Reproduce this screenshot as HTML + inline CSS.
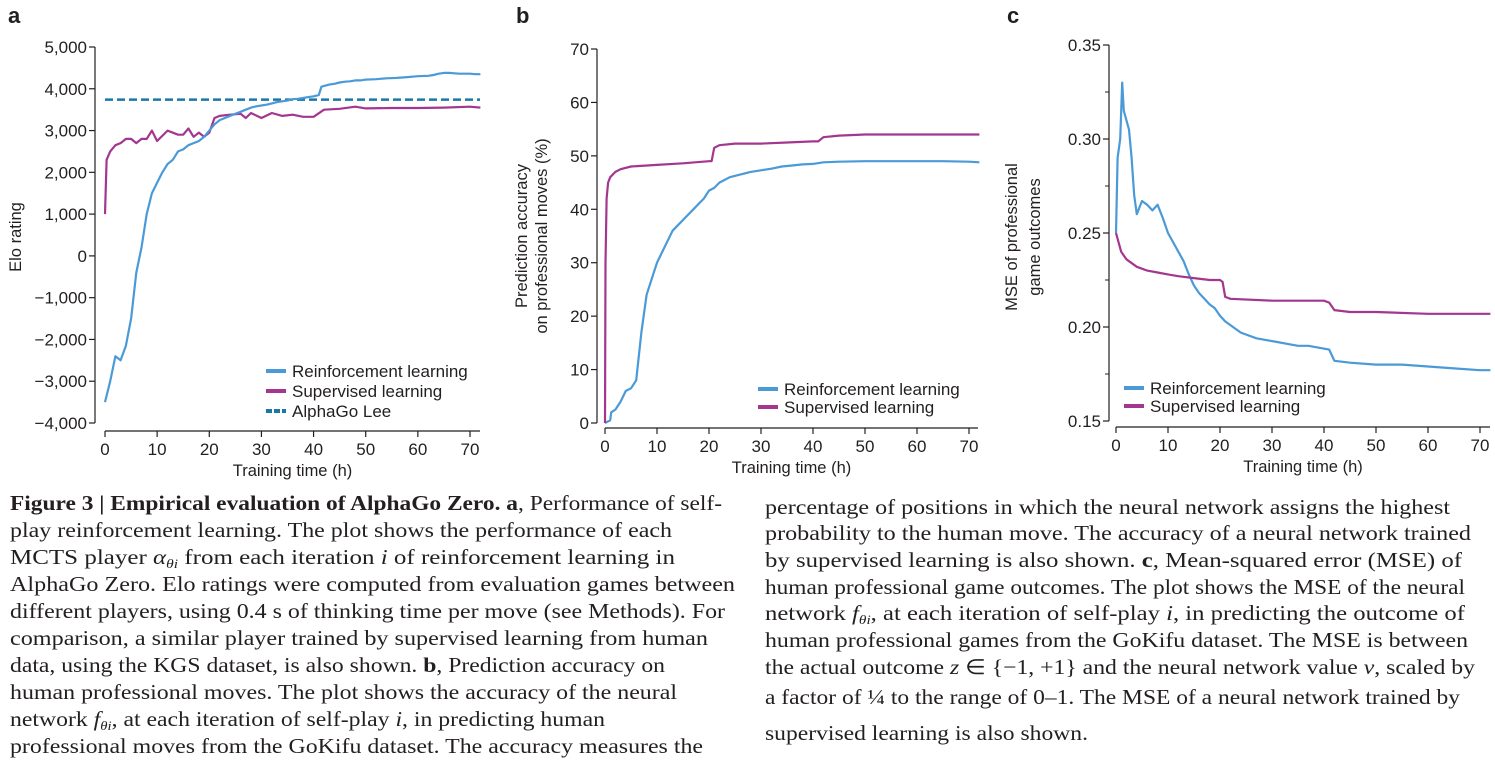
<!DOCTYPE html>
<html><head><meta charset="utf-8"><style>
html,body{margin:0;padding:0;background:#fff;}
svg{display:block;}
.ax{font-family:"Liberation Sans",sans-serif;font-size:17px;fill:#231f20;}
.tt{font-family:"Liberation Sans",sans-serif;font-size:16.5px;fill:#231f20;}
.cap{font-family:"Liberation Serif",serif;font-size:21px;fill:#231f20;}
</style></head><body>
<svg id="fig" width="1495" height="768" viewBox="0 0 1495 768" xmlns="http://www.w3.org/2000/svg">
<g id="charts"></g>
<g id="caption">
<text class="cap" x="10" y="510" textLength="712" lengthAdjust="spacingAndGlyphs"><tspan font-weight="bold">Figure 3 | Empirical evaluation of AlphaGo Zero. a</tspan>, Performance of self-</text>
<text class="cap" x="10" y="537" textLength="662" lengthAdjust="spacingAndGlyphs">play reinforcement learning. The plot shows the performance of each</text>
<text class="cap" x="10" y="564" textLength="665" lengthAdjust="spacingAndGlyphs">MCTS player <tspan font-style="italic">α</tspan><tspan font-size="13" font-style="italic" dy="4">θi</tspan><tspan dy="-4"> from each iteration </tspan><tspan font-style="italic">i</tspan> of reinforcement learning in</text>
<text class="cap" x="10" y="591" textLength="725" lengthAdjust="spacingAndGlyphs">AlphaGo Zero. Elo ratings were computed from evaluation games between</text>
<text class="cap" x="10" y="618" textLength="715" lengthAdjust="spacingAndGlyphs">different players, using 0.4 s of thinking time per move (see Methods). For</text>
<text class="cap" x="10" y="645" textLength="698" lengthAdjust="spacingAndGlyphs">comparison, a similar player trained by supervised learning from human</text>
<text class="cap" x="10" y="672" textLength="655" lengthAdjust="spacingAndGlyphs">data, using the KGS dataset, is also shown. <tspan font-weight="bold">b</tspan>, Prediction accuracy on</text>
<text class="cap" x="10" y="699" textLength="667" lengthAdjust="spacingAndGlyphs">human professional moves. The plot shows the accuracy of the neural</text>
<text class="cap" x="10" y="726" textLength="595" lengthAdjust="spacingAndGlyphs">network <tspan font-style="italic">f</tspan><tspan font-size="13" font-style="italic" dy="4">θi</tspan><tspan dy="-4">, at each iteration of self-play </tspan><tspan font-style="italic">i</tspan>, in predicting human</text>
<text class="cap" x="10" y="753" textLength="693" lengthAdjust="spacingAndGlyphs">professional moves from the GoKifu dataset. The accuracy measures the</text>
<text class="cap" x="765" y="514" textLength="685" lengthAdjust="spacingAndGlyphs">percentage of positions in which the neural network assigns the highest</text>
<text class="cap" x="765" y="540" textLength="706" lengthAdjust="spacingAndGlyphs">probability to the human move. The accuracy of a neural network trained</text>
<text class="cap" x="765" y="567" textLength="697" lengthAdjust="spacingAndGlyphs">by supervised learning is also shown. <tspan font-weight="bold">c</tspan>, Mean-squared error (MSE) of</text>
<text class="cap" x="765" y="594" textLength="700" lengthAdjust="spacingAndGlyphs">human professional game outcomes. The plot shows the MSE of the neural</text>
<text class="cap" x="765" y="620" textLength="700" lengthAdjust="spacingAndGlyphs">network <tspan font-style="italic">f</tspan><tspan font-size="13" font-style="italic" dy="4">θi</tspan><tspan dy="-4">, at each iteration of self-play </tspan><tspan font-style="italic">i</tspan>, in predicting the outcome of</text>
<text class="cap" x="765" y="647" textLength="703" lengthAdjust="spacingAndGlyphs">human professional games from the GoKifu dataset. The MSE is between</text>
<text class="cap" x="765" y="674" textLength="710" lengthAdjust="spacingAndGlyphs">the actual outcome <tspan font-style="italic">z</tspan> ∈ {−1, +1} and the neural network value <tspan font-style="italic">v</tspan>, scaled by</text>
<text class="cap" x="765" y="704" textLength="695" lengthAdjust="spacingAndGlyphs">a factor of ¼ to the range of 0–1. The MSE of a neural network trained by</text>
<text class="cap" x="765" y="740" textLength="323" lengthAdjust="spacingAndGlyphs">supervised learning is also shown.</text>
</g>
</svg>
<script>
// Panel a data
const aRlT = [0,1,2,3,4,5,6,7,8,9,10,11,12,13,14,15,16,17,18,19,20,21,22,23,24,25,26,27,28,29,30,31,32,33,34,35,36,37,38,39,40,41,41.5,43,44,45,46,47,48,49,50,52,54,56,58,60,62,63,64,65,66,67,68,69,70,71,72];
const aRlV = [-3500,-3000,-2400,-2500,-2150,-1500,-400,200,1000,1500,1750,2000,2200,2300,2500,2550,2650,2700,2750,2850,3000,3150,3250,3300,3350,3400,3450,3500,3550,3580,3600,3620,3650,3680,3700,3720,3750,3760,3780,3800,3820,3850,4050,4100,4120,4150,4170,4180,4200,4200,4220,4230,4250,4260,4280,4300,4310,4330,4360,4380,4380,4370,4360,4360,4360,4350,4350];
const aSlT = [0,0.3,1,2,3,4,5,6,7,8,9,10,12,14,15,16,17,18,19,20,21,22,24,26,27,28,30,32,34,36,38,40,42,45,48,50,55,60,65,70,72];
const aSlV = [1000,2300,2500,2650,2700,2800,2800,2700,2800,2800,3000,2750,3000,2900,2900,3050,2850,2950,2850,2950,3300,3350,3380,3400,3300,3420,3300,3420,3350,3380,3330,3330,3500,3520,3570,3530,3540,3540,3550,3570,3550];
const aLee = 3739;
const aYTicks = [5000,4000,3000,2000,1000,0,-1000,-2000,-3000,-4000];
const aYLabels = ["5,000","4,000","3,000","2,000","1,000","0","−1,000","−2,000","−3,000","−4,000"];
// Panel b data
const bRlT = [0,1,1.2,2,3,4,5,6,7,8,9,10,11,12,13,14,15,16,17,18,19,20,21,22,24,26,28,30,32,34,36,38,40,42,45,50,55,60,65,70,72];
const bRlV = [0,0.5,2,2.5,4,6,6.5,8,17,24,27,30,32,34,36,37,38,39,40,41,42,43.5,44,45,46,46.5,47,47.3,47.6,48,48.2,48.4,48.5,48.8,48.9,49,49,49,49,48.9,48.8];
const bSlT = [0,0.1,0.3,0.6,1,2,3,5,10,15,20,20.5,21,22,25,30,35,40,41,42,45,50,55,60,65,72];
const bSlV = [0,30,42,45,46,47,47.5,48,48.3,48.6,49,49,51.5,52,52.3,52.3,52.5,52.7,52.7,53.5,53.8,54,54,54,54,54];
const bYTicks = [0,10,20,30,40,50,60,70];
// Panel c data
const cRlT = [0,0.3,0.8,1.2,1.5,2,2.5,3,3.5,4,5,6,7,8,9,10,11,12,13,14,15,16,17,18,19,20,21,22,23,24,25,27,29,31,33,35,37,39,41,42,45,50,55,60,65,70,72];
const cRlV = [0.25,0.29,0.30,0.33,0.315,0.31,0.305,0.29,0.27,0.26,0.267,0.265,0.262,0.265,0.258,0.25,0.245,0.24,0.235,0.228,0.222,0.218,0.215,0.212,0.21,0.206,0.203,0.201,0.199,0.197,0.196,0.194,0.193,0.192,0.191,0.19,0.19,0.189,0.188,0.182,0.181,0.18,0.18,0.179,0.178,0.177,0.177];
const cSlT = [0,1,2,4,6,8,10,12,15,18,20,20.5,21,22,30,40,41,42,45,50,60,72];
const cSlV = [0.25,0.24,0.236,0.232,0.23,0.229,0.228,0.227,0.226,0.225,0.225,0.224,0.216,0.215,0.214,0.214,0.213,0.209,0.208,0.208,0.207,0.207];
const cYTicks = [0.35,0.30,0.25,0.20,0.15];
const cYLabels = ["0.35","0.30","0.25","0.20","0.15"];
const cYMinor = [0.325,0.275,0.225,0.175];
const xTicks = [0,10,20,30,40,50,60,70];

const NS = "http://www.w3.org/2000/svg";
const root = document.getElementById('charts');
const BLUE = "#4a9ad8", MAG = "#a3378f", DASH = "#1a78a8", INK = "#231f20";
function mk(tag, attrs, parent){const e=document.createElementNS(NS,tag);for(const k in attrs)e.setAttribute(k,attrs[k]);(parent||root).appendChild(e);return e;}

function panel(cfg){
  const g = mk('g',{});
  
  
  const X = t => cfg.x0 + (t - 0) * (cfg.x70 - cfg.x0) / 70;
  const Y = v => cfg.yTop + (cfg.vTop - v) * (cfg.yBot - cfg.yTop) / (cfg.vTop - cfg.vBot);
  const pl = mk('text',{x:cfg.letterX,y:23,'font-family':'Liberation Sans,sans-serif','font-size':22,'font-weight':'bold',fill:INK},g);
  pl.textContent = cfg.letter;
  
  
  const ya = mk('line',{x1:cfg.yAxisX,x2:cfg.yAxisX,y1:cfg.yTop,y2:cfg.yBot,stroke:INK,'stroke-width':1.2},g);
  
  
  cfg.yTicks.forEach((v,i)=>{
    mk('line',{x1:cfg.yAxisX-6,x2:cfg.yAxisX,y1:Y(v),y2:Y(v),stroke:INK,'stroke-width':1.2},g);
    const t = mk('text',{x:cfg.yAxisX-8,y:Y(v)+6,'text-anchor':'end',class:'ax'},g);
    t.textContent = cfg.yLabels ? cfg.yLabels[i] : String(v);
    
    
  });
  (cfg.yMinor||[]).forEach(v=>{mk('line',{x1:cfg.yAxisX-4,x2:cfg.yAxisX,y1:Y(v),y2:Y(v),stroke:INK,'stroke-width':1},g);});
  const xa = mk('line',{x1:cfg.x0,x2:cfg.xEnd,y1:cfg.xAxisY,y2:cfg.xAxisY,stroke:INK,'stroke-width':1.2},g);
  
  
  xTicks.forEach(v=>{
    mk('line',{x1:X(v),x2:X(v),y1:cfg.xAxisY,y2:cfg.xAxisY+6,stroke:INK,'stroke-width':1.2},g);
    const t = mk('text',{x:X(v),y:cfg.xAxisY+24,'text-anchor':'middle',class:'ax'},g);
    t.textContent = String(v);
    
    
  });
  const xt = mk('text',{x:(cfg.x0+cfg.xEnd)/2,y:cfg.xAxisY+45,'text-anchor':'middle',class:'tt'},g);
  xt.textContent = 'Training time (h)';
  
  
  cfg.yTitle.forEach((s,i)=>{
    const tx = cfg.yTitleX[i], ty = cfg.yTitleY;
    const t = mk('text',{x:tx,y:ty,'text-anchor':'middle',class:'tt',transform:`rotate(-90 ${tx} ${ty})`},g);
    t.textContent = s;
    
    
  });
  if (cfg.ref !== undefined){
    const l = mk('line',{x1:cfg.x0,x2:cfg.xEnd,y1:Y(cfg.ref),y2:Y(cfg.ref),stroke:DASH,'stroke-width':2.5,'stroke-dasharray':'8 4'},g);
    
    
  }
  cfg.series.forEach(s=>{
    const d = s.t.map((t,i)=>(i?'L':'M')+X(t).toFixed(1)+','+Y(s.v[i]).toFixed(1)).join('');
    const p = mk('path',{d:d,fill:'none',stroke:s.color,'stroke-width':2.2,'stroke-linejoin':'round'},g);
    
    
  });
  cfg.legend.forEach((e,i)=>{
    const y = cfg.legY + i*cfg.legDy;
    const lg = mk('g',{},g);
    
    
    mk('line',{x1:cfg.legX,x2:cfg.legX+20,y1:y,y2:y,stroke:e.color,'stroke-width':4,'stroke-dasharray':e.dash?'6 2':'none'},lg);
    const t = mk('text',{x:cfg.legX+26,y:y+6,class:'ax'},lg);
    t.textContent = e.label;
  });
}

panel({name:'panel-a-elo',letter:'a',letterX:8,x0:105,x70:470,xEnd:480,yAxisX:95,xAxisY:431,yTop:47,yBot:423,vTop:5000,vBot:-4000,
  yTicks:aYTicks,yLabels:aYLabels,yTitle:['Elo rating'],yTitleX:[21],yTitleY:237,ref:aLee,
  series:[{t:aSlT,v:aSlV,color:MAG,name:'supervised-learning-line'},{t:aRlT,v:aRlV,color:BLUE,name:'reinforcement-learning-line'}],
  legend:[{label:'Reinforcement learning',color:BLUE},{label:'Supervised learning',color:MAG},{label:'AlphaGo Lee',color:DASH,dash:true}],
  legX:266,legY:371,legDy:20});
panel({name:'panel-b-accuracy',letter:'b',letterX:516,x0:605,x70:969,xEnd:978,yAxisX:597,xAxisY:428,yTop:49,yBot:423,vTop:70,vBot:0,
  yTicks:bYTicks,yTitle:['Prediction accuracy','on professional moves (%)'],yTitleX:[527,547],yTitleY:236,
  series:[{t:bRlT,v:bRlV,color:BLUE,name:'reinforcement-learning-line'},{t:bSlT,v:bSlV,color:MAG,name:'supervised-learning-line'}],
  legend:[{label:'Reinforcement learning',color:BLUE},{label:'Supervised learning',color:MAG}],
  legX:758,legY:389,legDy:18});
panel({name:'panel-c-mse',letter:'c',letterX:1007,x0:1116,x70:1480,xEnd:1490,yAxisX:1109,xAxisY:427,yTop:45,yBot:421,vTop:0.35,vBot:0.15,
  yTicks:cYTicks,yLabels:cYLabels,yMinor:cYMinor,yTitle:['MSE of professional','game outcomes'],yTitleX:[1017,1040],yTitleY:237,
  series:[{t:cRlT,v:cRlV,color:BLUE,name:'reinforcement-learning-line'},{t:cSlT,v:cSlV,color:MAG,name:'supervised-learning-line'}],
  legend:[{label:'Reinforcement learning',color:BLUE},{label:'Supervised learning',color:MAG}],
  legX:1124,legY:388,legDy:18});
</script>
</body></html>
